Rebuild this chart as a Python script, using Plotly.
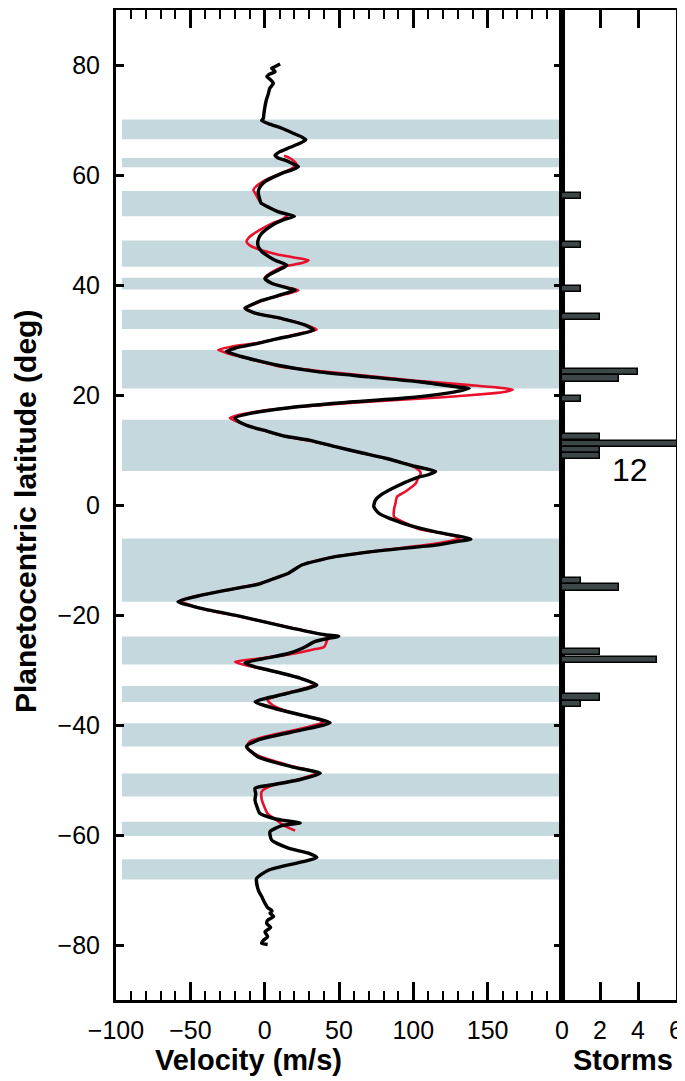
import plotly.graph_objects as go

W, H = 685, 1081
OFF = 8  # page body margin of the html page

# ---- wind profile 1 (black) : planetocentric latitude (deg), velocity (m/s)
black_lat = [80.2, 79.6, 79.4, 78.8, 78.3, 77.9, 77.3, 76.7, 75.8, 74.8, 73.5, 72.4, 71.2, 70.3, 69.9,
             69.2, 68.5, 67.5, 66.9, 66.4, 65.8, 64.9, 64.2, 63.6, 63.1, 62.7, 62.1, 61.5, 60.9, 60.3,
             59.5, 58.8, 57.9, 57.0, 56.7, 55.8, 54.9, 54.1, 53.3, 52.5, 51.9, 51.2, 50.3, 49.4, 48.5,
             47.6, 46.8, 46.1, 45.3, 44.5, 43.6, 42.7, 42.0, 41.2, 40.3, 39.4, 39.1, 38.5, 37.9, 37.2,
             36.4, 35.8, 34.9, 33.9, 32.7, 31.8, 30.9, 30.2, 29.4, 28.5, 27.9, 27.0, 26.2, 25.5, 24.2,
             23.3, 22.4, 21.5, 21.2, 20.8, 20.3, 19.4, 18.5, 17.6, 16.7, 15.8, 15.1, 14.2, 13.4, 12.5,
             11.8, 10.6, 9.5, 8.5, 7.0, 6.1, 5.5, 4.9, 3.0, 1.8, 0.9, -0.3, -1.5, -3.3, -4.9,
             -5.8, -6.2, -6.7, -7.3, -8.2, -9.4, -10.9, -12.4, -13.5, -14.0, -14.2, -14.4, -15.2, -16.4, -17.6,
             -18.8, -20.3, -22.1, -23.6, -23.9, -24.3, -24.8, -26.1, -27.0, -28.0, -28.7, -29.3, -30.0, -31.5, -32.7,
             -34.2, -35.8, -37.0, -38.5, -39.6, -40.9, -42.7, -43.9, -45.8, -47.6, -48.8, -50.0, -51.0, -51.5, -52.5,
             -53.6, -55.0, -56.1, -57.0, -57.3, -57.8, -58.3, -59.4, -60.9, -62.4, -63.3, -64.1, -64.9, -66.4, -67.9,
             -70.0, -71.2, -72.4, -73.2, -73.8, -74.2, -74.8, -75.5, -76.1, -76.8, -77.6, -78.5, -79.2, -79.7, -79.9]
black_vel = [10.4, 6, 4.7, 7, 3, 1.4, 4, 5.9, 3.5, 2.5, 1, 0.2, -0.5, -0.9, -2,
             4, 11.5, 20, 25, 27.7, 24, 16, 10, 7, 9, 13.7, 18.5, 22.7, 18, 11.5,
             5, 0.2, -3, -4.3, -4.3, -3.5, -2.5, 3, 9.2, 20, 13, 7, 2, -2, -4,
             -4.7, -4, -2, 2, 7, 14.9, 9.2, 4, 0.2, 4.7, 16, 20.5, 14, 7, -2,
             -8.8, -13.3, -6.5, 11.5, 27.3, 32.9, 20.5, 8, -4.3, -20, -25.7, -15.5, -4, 7, 36.3,
             70, 104, 128.6, 137.6, 132, 121.8, 92.6, 47.5, 13.7, -8.8, -20, -17, -9, 2, 13.7,
             30, 47.5, 65, 81.3, 101.6, 115, 110, 101.6, 85.8, 78, 74.5, 73.4, 76.8, 92.6, 115,
             133, 138.7, 128, 115, 81.3, 47.5, 25, 16, 5, 0, -2, -4, -20, -42.6, -58.3,
             -42.6, -15.5, 13.7, 40.7, 49.8, 42, 34, 25, 16, -2, -13.3, -8, 2.5, 24, 35.1,
             16, -6.5, 7, 29.5, 44, 25, -4.3, -12.2, -4.3, 18.2, 37.4, 22.7, 2, -6.5, -6,
             -6.5, -5, -3.2, 6, 11.5, 23.9, 11.5, 3.6, 4.7, 16, 29.5, 35.1, 25, 2.5, -5.4,
             -4.3, -2, 0.2, 2, 5, 3.6, 6, 2, 1.4, 4, 0.2, 2, -1, -2, 2]

# ---- wind profile 2 (red)
red_lat = [63.5, 63.2, 62.5, 61.8, 61.0, 60.2, 59.3, 58.3, 57.3, 56.5, 55.5, 54.5, 53.5, 52.7, 52.0,
           51.2, 50.2, 49.2, 48.5, 47.9, 47.2, 46.4, 45.6, 44.9, 44.5, 44.0, 43.3, 42.5, 41.8, 41.2,
           40.3, 39.4, 39.0, 38.4, 37.8, 37.0, 36.2, 35.7, 34.9, 33.9, 32.7, 31.9, 31.1, 30.2, 29.4,
           28.8, 28.2, 27.5, 26.8, 26.0, 25.2, 24.4, 23.6, 22.6, 21.8, 21.4, 21.0, 20.6, 20.3, 19.6,
           18.8, 17.9, 17.0, 16.2, 15.8, 15.2, 14.3, 13.4, 12.5, 11.7, 10.6, 9.5, 8.5, 7.3, 6.5,
           5.8, 4.8, 3.9, 2.5, 1.5, 0.3, -0.8, -2.1, -3.3, -4.3, -5.2, -5.8, -6.1, -6.6, -7.3,
           -8.2, -9.4, -10.9, -12.4, -13.5, -14.2, -15.2, -16.4, -17.4, -18.8, -20.3, -22.1, -23.4, -23.9, -24.6,
           -25.8, -26.2, -27.0, -27.8, -28.5, -29.2, -30.0, -31.5, -32.6, -33.6, -34.5, -35.5, -36.5, -37.5, -38.5,
           -39.4, -40.5, -42.0, -43.0, -44.0, -45.5, -47.4, -48.6, -49.8, -51.0, -52.1, -53.5, -55.0, -56.1, -57.3,
           -58.3, -59.2]
red_vel = [13, 16, 19.8, 21.6, 17, 10, 2, -4, -7.6, -6, -4, 0, 8, 15, 12,
           5, -2, -8, -11, -12.2, -10, -3, 8, 22, 29.5, 25, 12, 6, 2, 0,
           5, 18, 22.7, 15, 6, -3, -10, -13, -7, 11, 28, 35, 22, 8, -6,
           -22, -31.3, -24, -14, -2, 10, 35, 65, 102, 138, 155, 166.9, 162, 153, 120,
           70, 25, -5, -20, -23.4, -19, -10, 1, 13, 30, 48, 65, 81, 97, 103,
           105, 103, 101.6, 95, 89, 88, 87, 87, 95, 103, 120, 129, 131, 124, 108,
           80, 47, 25, 16, 5, -2, -20, -43, -57, -43, -16, 14, 36, 43, 42,
           40, 34, 20, 0, -20, -12, 2, 24, 33, 24, 10, 2, 6, 15, 29,
           40, 27, 2, -10, -12, -5, 17, 35, 24, 5, -2, -2, 0, 2, 8,
           13, 20.5]

# ---- shaded latitude bands (deg)
band_top = [70.1, 63.1, 57.1, 48.1, 41.3, 35.5, 28.2, 15.5, -6.1, -23.9, -32.9, -39.7, -48.8, -57.6, -64.4]
band_bottom = [66.5, 61.4, 52.5, 43.3, 39.2, 32.0, 21.2, 6.2, -17.6, -29.0, -35.8, -43.9, -53.0, -60.2, -68.1]

# ---- storm histogram
storm_lat = [56.2, 47.3, 39.2, 34.1, 24.2, 23.0, 19.2, 12.4, 11.1, 10.0, 8.9, -13.8, -15.0, -26.8, -28.1, -35.0, -36.2]
storm_count = [1, 1, 1, 2, 4, 3, 1, 2, 12, 2, 2, 1, 3, 2, 5, 2, 1]

vel_ticks = [-100, -50, 0, 50, 100, 150]
lat_ticks = [-80, -60, -40, -20, 0, 20, 40, 60, 80]
storm_ticks = [0, 2, 4, 6]

FONT = "Liberation Sans, Arial, sans-serif"
BAND = "rgb(197,216,222)"


def px(x):
    return (x - OFF) / W


def py(y):
    return 1 - (y - OFF) / H


fig = go.Figure()

for t, b in zip(band_top, band_bottom):
    fig.add_shape(type="rect", xref="x", yref="y", x0=-96, x1=198, y0=b, y1=t,
                  fillcolor=BAND, line_width=0, layer="below")

fig.add_trace(go.Scatter(x=red_vel, y=red_lat, mode="lines",
                         line=dict(color="#e8102a", width=2.6, shape="spline", smoothing=0.6),
                         xaxis="x", yaxis="y", showlegend=False))
fig.add_trace(go.Scatter(x=black_vel, y=black_lat, mode="lines",
                         line=dict(color="black", width=3.4, shape="spline", smoothing=0.6),
                         xaxis="x", yaxis="y", showlegend=False))
fig.add_trace(go.Bar(x=storm_count, y=storm_lat, orientation="h", width=1.1,
                     marker=dict(color="#3d4747", line=dict(color="black", width=1.5)),
                     xaxis="x2", yaxis="y2", showlegend=False))

ydom = [py(1000), py(10)]
TF = 25
fig.update_layout(
    template="none",
    width=W, height=H,
    margin=dict(l=0, r=0, t=0, b=0),
    paper_bgcolor="white", plot_bgcolor="white",
    font=dict(family=FONT, color="black", size=TF),
    bargap=0,
    xaxis=dict(domain=[px(116), px(562)], range=[-100, 200], tickvals=vel_ticks,
               ticks="inside", ticklen=18, tickwidth=2.5, tickcolor="black",
               minor=dict(dtick=10, tick0=0, ticks="inside", ticklen=9, tickwidth=2, tickcolor="black"),
               showline=True, linewidth=3, linecolor="black", mirror="ticks",
               showgrid=False, zeroline=False, automargin=False,
               tickfont=dict(size=TF), ticklabelstandoff=6, anchor="y"),
    yaxis=dict(domain=ydom, range=[-90, 90], tickvals=lat_ticks,
               ticks="inside", ticklen=8, tickwidth=2.5, tickcolor="black",
               showline=True, linewidth=3, linecolor="black", mirror="ticks",
               showgrid=False, zeroline=False, automargin=False,
               tickfont=dict(size=TF), ticklabelstandoff=8, anchor="x"),
    xaxis2=dict(domain=[px(562), px(676)], range=[0, 6], tickvals=storm_ticks,
                ticks="inside", ticklen=18, tickwidth=2.5, tickcolor="black",
                showline=True, linewidth=3, linecolor="black", mirror="ticks",
                showgrid=False, zeroline=False, automargin=False,
                tickfont=dict(size=TF), ticklabelstandoff=6, anchor="y2"),
    yaxis2=dict(domain=ydom, range=[-90, 90], showticklabels=False, ticks="",
                showline=True, linewidth=3, linecolor="black", mirror=True,
                showgrid=False, zeroline=False, automargin=False, anchor="x2"),
)

fig.add_annotation(text="<b>Velocity (m/s)</b>", xref="paper", yref="paper",
                   x=px(248), y=py(1060), xanchor="center", yanchor="middle",
                   showarrow=False, font=dict(size=29))
fig.add_annotation(text="<b>Storms</b>", xref="paper", yref="paper",
                   x=px(623), y=py(1060), xanchor="center", yanchor="middle",
                   showarrow=False, font=dict(size=29))
fig.add_annotation(text="<b>Planetocentric latitude (deg)</b>", xref="paper", yref="paper",
                   x=px(26), y=py(512), xanchor="center", yanchor="middle", borderpad=0,
                   showarrow=False, textangle=-90, font=dict(size=30))
fig.add_annotation(text="12", xref="paper", yref="paper",
                   x=px(630), y=py(470), xanchor="center", yanchor="middle",
                   showarrow=False, font=dict(size=32))

fig.write_html("out.html")
